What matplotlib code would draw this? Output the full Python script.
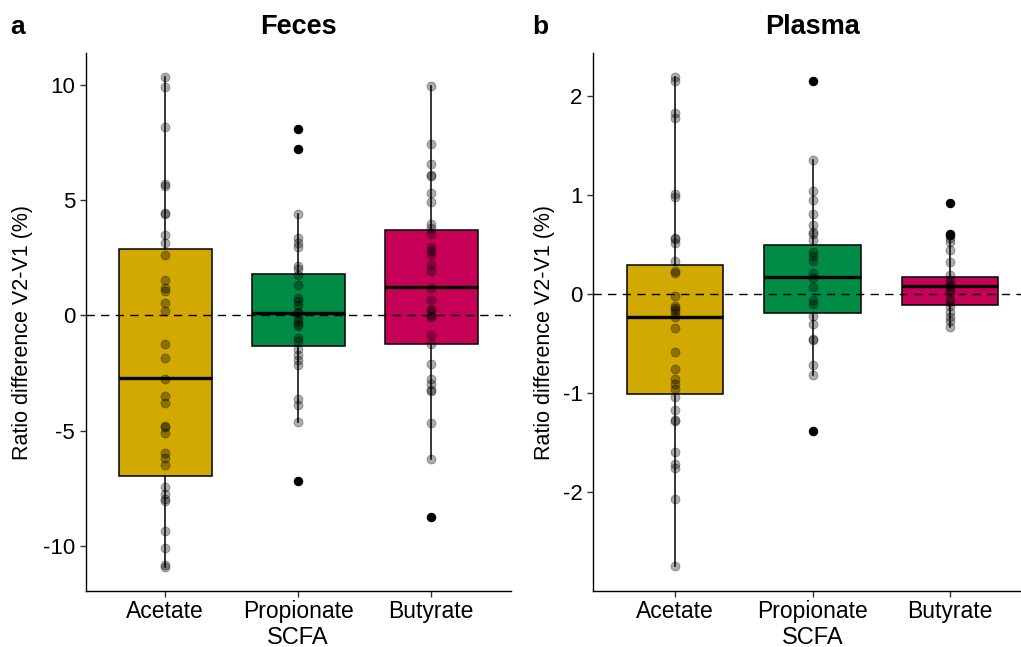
import matplotlib
matplotlib.use("Agg")
import matplotlib.pyplot as plt
import numpy as np

plt.rcParams['font.family'] = ['Liberation Sans', 'DejaVu Sans']
plt.rcParams['axes.unicode_minus'] = False

categories = ["Acetate", "Propionate", "Butyrate"]
colors = ["#D1A900", "#008C46", "#C70057"]

# ---- Feces data (ratio difference V2-V1, %) ----
feces_acetate = [10.33, 9.9, 8.19, 5.7, 5.6, 4.45, 4.4, 3.48, 3.15, 2.62, 1.54, 1.2, 1.06,
                 0.54, 0.19, -1.23, -1.85, -2.75, -3.5, -3.81, -4.8, -4.86, -5.12, -5.96,
                 -6.2, -6.49, -7.46, -7.75, -7.97, -8.04, -9.36, -10.1, -10.84, -10.94]
feces_propionate = [8.09, 7.2, 4.38, 3.36, 3.15, 2.97, 2.13, 1.99, 1.75, 1.32, 0.74, 0.6,
                    0.43, 0.16, 0.1, -0.12, -0.25, -0.36, -0.48, -0.99, -1.13, -1.45, -1.74,
                    -1.96, -2.17, -3.62, -3.91, -4.61, -7.19]
feces_butyrate = [9.93, 7.42, 6.55, 6.1, 6.05, 5.32, 4.93, 3.94, 3.77, 3.52, 2.97, 2.8, 2.61,
                  2.17, 1.93, 1.2, 0.68, 0.25, 0.22, -0.04, -0.07, -0.87, -1.26, -2.1, -2.78,
                  -2.97, -3.26, -3.3, -4.67, -6.23, -8.75]
feces_q1 = [-6.96, -1.33, -1.23]
feces_med = [-2.72, 0.1, 1.23]
feces_q3 = [2.87, 1.78, 3.72]
feces_whislo = [-10.94, -4.61, -6.23]
feces_whishi = [10.33, 4.38, 9.93]
feces_outliers = [[], [8.09, 7.2, -7.19], [-8.75]]

# ---- Plasma data ----
plasma_acetate = [2.185, 2.15, 1.83, 1.77, 1.01, 0.98, 0.57, 0.56, 0.51, 0.33, 0.23, 0.21,
                  -0.02, -0.12, -0.14, -0.16, -0.19, -0.23, -0.34, -0.58, -0.76, -0.86, -0.91,
                  -0.96, -1.04, -1.17, -1.27, -1.28, -1.59, -1.71, -1.75, -2.07, -2.74]
plasma_propionate = [2.15, 1.35, 1.04, 0.95, 0.81, 0.70, 0.63, 0.61, 0.55, 0.42, 0.38, 0.33,
                     0.21, 0.16, 0.07, -0.06, -0.10, -0.22, -0.30, -0.45, -0.46, -0.71, -0.82,
                     -1.38]
plasma_butyrate = [0.92, 0.61, 0.60, 0.57, 0.52, 0.44, 0.32, 0.19, 0.14, 0.10, 0.08, 0.04,
                   0.02, -0.05, -0.08, -0.12, -0.18, -0.23, -0.27, -0.33]
plasma_q1 = [-1.01, -0.19, -0.11]
plasma_med = [-0.23, 0.17, 0.08]
plasma_q3 = [0.29, 0.49, 0.17]
plasma_whislo = [-2.74, -0.82, -0.33]
plasma_whishi = [2.185, 1.35, 0.58]
plasma_outliers = [[], [2.15, -1.38], [0.92, 0.61, 0.60]]

W, H = 1021, 647
fig = plt.figure(figsize=(W / 100, H / 100), dpi=100)

def fx(px):
    return px / W

def fy(py):
    return 1 - py / H

panels = [
    dict(left=85.5, right=510.8, ylim=(-11.95, 11.38), yticks=[-10, -5, 0, 5, 10],
         data=[feces_acetate, feces_propionate, feces_butyrate],
         q1=feces_q1, med=feces_med, q3=feces_q3, lo=feces_whislo, hi=feces_whishi,
         out=feces_outliers, title="Feces", letter="a", letter_x=10, ylab_x=23),
    dict(left=593, right=1032, ylim=(-2.99, 2.43), yticks=[-2, -1, 0, 1, 2],
         data=[plasma_acetate, plasma_propionate, plasma_butyrate],
         q1=plasma_q1, med=plasma_med, q3=plasma_q3, lo=plasma_whislo, hi=plasma_whishi,
         out=plasma_outliers, title="Plasma", letter="b", letter_x=532, ylab_x=544),
]

top_px, bot_px = 53, 590.7
for p in panels:
    ax = fig.add_axes([fx(p["left"]), fy(bot_px), (p["right"] - p["left"]) / W,
                       (bot_px - top_px) / H])
    pos = np.arange(1, len(categories) + 1)
    stats = []
    for i in range(len(categories)):
        stats.append(dict(med=p["med"][i], q1=p["q1"][i], q3=p["q3"][i],
                          whislo=p["lo"][i], whishi=p["hi"][i], fliers=p["out"][i]))
    bp = ax.bxp(stats, positions=pos, widths=0.7, patch_artist=True, showcaps=False,
                boxprops=dict(edgecolor="black", linewidth=1.1),
                whiskerprops=dict(color="black", linewidth=1.1),
                medianprops=dict(color="black", linewidth=2.4),
                flierprops=dict(marker="o", markerfacecolor="black", markeredgecolor="black",
                                markersize=5.6, linestyle="none"),
                zorder=2)
    for patch, c in zip(bp["boxes"], colors):
        patch.set_facecolor(c)
    ax.axhline(0, color="black", linewidth=1.0, dashes=(6, 4.5), zorder=3)
    for i, vals in enumerate(p["data"]):
        ax.scatter(np.full(len(vals), pos[i]), vals, s=42, color="black", alpha=0.33,
                   edgecolors="black", linewidths=0.6, zorder=4)
    ax.set_xlim(0.4, 3.6)
    ax.set_ylim(*p["ylim"])
    ax.set_yticks(p["yticks"])
    ax.set_yticklabels([str(t) for t in p["yticks"]])
    ax.set_xticks(pos)
    ax.set_xticklabels(categories)
    ax.tick_params(axis="both", length=4, width=1.0, color="#333333", labelcolor="black")
    ax.tick_params(axis="x", pad=2.5, labelsize=16.5)
    ax.tick_params(axis="y", pad=3.5, labelsize=16)
    for s in ["top", "right"]:
        ax.spines[s].set_visible(False)
    for s in ["left", "bottom"]:
        ax.spines[s].set_linewidth(1.0)
        ax.spines[s].set_color("black")
    cx = (p["left"] + p["right"]) / 2
    fig.text(fx(cx), fy(27), p["title"], ha="center", va="center", fontsize=19.5,
             fontweight="bold")
    fig.text(fx(p["letter_x"]), fy(27), p["letter"], ha="left", va="center", fontsize=19,
             fontweight="bold")
    fig.text(fx(cx), fy(638), "SCFA", ha="center", va="center", fontsize=17)
    fig.text(fx(p["ylab_x"]), fy(333), "Ratio difference V2-V1 (%)",
             ha="center", va="center", rotation=90, fontsize=15.5)

fig.savefig("out.png", dpi=100)
